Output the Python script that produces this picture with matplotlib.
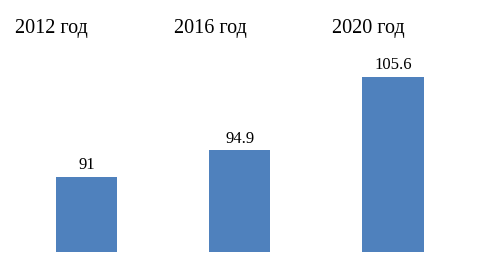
import matplotlib.pyplot as plt

years = ['2012 год', '2016 год', '2020 год']
values = [91, 94.9, 105.6]
labels = ['91', '94.9', '105.6']
base = 80

bar_color = '#4F81BD'
plt.rcParams['font.family'] = ['Liberation Serif', 'DejaVu Serif']

fig = plt.figure(figsize=(4.8, 2.57), dpi=100)
ax = fig.add_axes([0, 0, 1, 1])

x = range(len(values))
ax.bar(x, [v - base for v in values], width=0.4, color=bar_color, bottom=base)

# value labels above the bars
for i, v in enumerate(values):
    ax.annotate(labels[i], (i, v), xytext=(0, 2.5), textcoords='offset points',
                ha='center', va='bottom', fontsize=12)

ax.set_xlim(-0.564, 2.567)
ax.set_ylim(base - 5 / 6.84, base + 252 / 6.84)
ax.axis('off')

# year headings along the top
for i, yr in enumerate(years):
    fig.text((15 + i * 158.5) / 480, 1 - 33 / 257, yr, ha='left', va='baseline',
             fontsize=14.5)

fig.savefig('out.png', dpi=100)
